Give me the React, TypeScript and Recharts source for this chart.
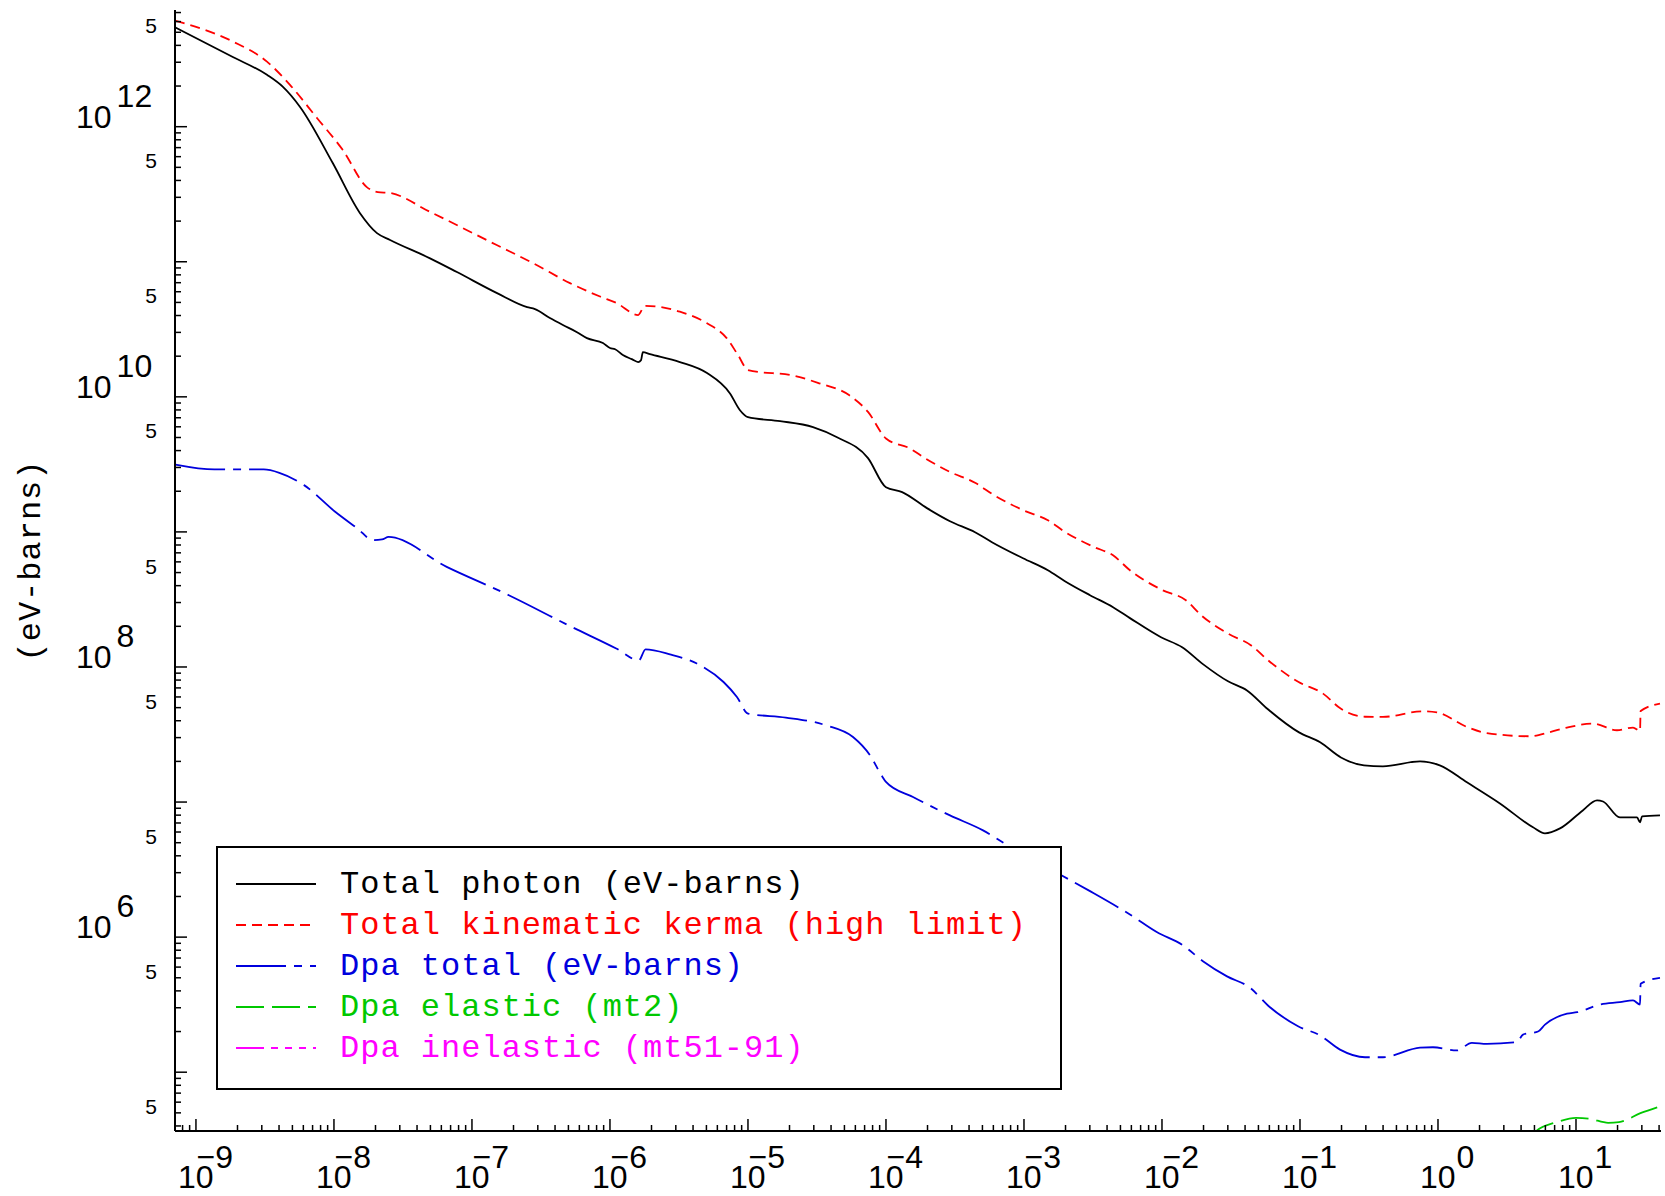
import React from 'react';
import { LineChart, Line, XAxis, YAxis, Legend } from 'recharts';

// photon heating, energy in MeV, values in eV-barns
const photonE = [7.05e-10, 1.85e-9, 3.27e-9, 4.27e-9, 5.68e-9, 9.8e-9, 1.54e-8, 2.05e-8, 2.55e-8, 4.97e-8, 7.78e-8, 1.52e-7, 2.51e-7, 2.86e-7, 3.67e-7, 4.56e-7, 5.77e-7, 6.81e-7, 8.89e-7, 1.0e-6, 1.09e-6, 1.24e-6, 1.44e-6, 1.6e-6, 1.68e-6, 1.73e-6, 1.95e-6, 3.21e-6, 5.05e-6, 7.41e-6, 8.75e-6, 1.0e-5, 1.71e-5, 2.96e-5, 4.42e-5, 7.41e-5, 1.0e-4, 1.31e-4, 1.98e-4, 2.91e-4, 4.42e-4, 5.86e-4, 9.84e-4, 1.49e-3, 1.98e-3, 3.01e-3, 4.42e-3, 5.86e-3, 9.84e-3, 1.4e-2, 1.98e-2, 3.01e-2, 4.13e-2, 5.86e-2, 9.84e-2, 0.14, 0.198, 0.291, 0.399, 0.741, 1.03, 1.62, 2.81, 4.88, 5.96, 7.66, 11.2, 14.2, 15.7, 20.8, 27.7, 29.1, 30.1, 40.6];
const photonV = [5.45e12, 3.28e12, 2.42e12, 1.97e12, 1.4e12, 5.38e11, 2.3e11, 1.63e11, 1.45e11, 1.06e11, 8.39e10, 5.86e10, 4.61e10, 4.46e10, 3.83e10, 3.4e10, 3.01e10, 2.72e10, 2.5e10, 2.3e10, 2.25e10, 2.04e10, 1.9e10, 1.81e10, 1.87e10, 2.14e10, 2.07e10, 1.81e10, 1.5e10, 1.06e10, 7.96e9, 7.08e9, 6.61e9, 5.97e9, 5.02e9, 3.52e9, 2.14e9, 1.97e9, 1.5e9, 1.2e9, 9.95e8, 8.39e8, 6.38e8, 5.2e8, 4.32e8, 3.4e8, 2.77e8, 2.3e8, 1.66e8, 1.4e8, 1.05e8, 7.83e7, 6.71e7, 4.86e7, 3.28e7, 2.77e7, 2.14e7, 1.87e7, 1.84e7, 2.0e7, 1.87e7, 1.4e7, 9.77e6, 6.5e6, 5.86e6, 6.38e6, 8.67e6, 1.03e7, 1.01e7, 7.69e6, 7.69e6, 7.08e6, 7.83e6, 7.96e6];

const kermaE = [7.05e-10, 1.85e-9, 3.27e-9, 4.8e-9, 7.53e-9, 1.16e-8, 1.73e-8, 2.08e-8, 2.55e-8, 4.97e-8, 1.51e-7, 2.77e-7, 5.13e-7, 8.47e-7, 1.12e-6, 1.6e-6, 1.79e-6, 3.21e-6, 5.02e-6, 7.01e-6, 8.47e-6, 1.0e-5, 2.25e-5, 3.21e-5, 5.4e-5, 7.41e-5, 1.0e-4, 1.49e-4, 1.93e-4, 2.91e-4, 4.42e-4, 6.07e-4, 9.84e-4, 1.49e-3, 1.98e-3, 3.21e-3, 4.42e-3, 5.86e-3, 1.01e-2, 1.49e-2, 1.92e-2, 3.0e-2, 4.4e-2, 6.07e-2, 9.77e-2, 0.147, 0.197, 0.296, 0.399, 0.778, 0.984, 1.62, 2.26, 4.65, 6.49, 8.61, 13.3, 19.8, 25.9, 29.1, 29.4, 40.6];
const kermaV = [6.1e12, 4.27e12, 3.03e12, 2.04e12, 1.16e12, 6.71e11, 3.57e11, 3.28e11, 3.23e11, 2.34e11, 1.33e11, 9.77e10, 6.95e10, 5.53e10, 4.94e10, 4.03e10, 4.72e10, 4.27e10, 3.52e10, 2.72e10, 2.04e10, 1.58e10, 1.42e10, 1.27e10, 1.03e10, 7.74e9, 4.92e9, 4.15e9, 3.5e9, 2.78e9, 2.31e9, 1.87e9, 1.45e9, 1.22e9, 1.0e9, 7.74e8, 6.71e8, 5.2e8, 3.7e8, 3.12e8, 2.42e8, 1.77e8, 1.45e8, 1.09e8, 7.74e7, 6.35e7, 4.92e7, 4.28e7, 4.27e7, 4.7e7, 4.61e7, 3.6e7, 3.24e7, 3.07e7, 3.3e7, 3.56e7, 3.81e7, 3.4e7, 3.56e7, 3.36e7, 4.72e7, 5.36e7];

const dpaE = [7.1e-10, 1.36e-9, 3.1e-9, 4.02e-9, 6.07e-9, 1.02e-8, 1.48e-8, 1.92e-8, 2.23e-8, 2.49e-8, 6.56e-8, 1.85e-7, 5.28e-7, 1.11e-6, 1.62e-6, 1.81e-6, 2.72e-6, 4.26e-6, 6.65e-6, 8.32e-6, 1.0e-5, 1.88e-5, 3.67e-5, 5.77e-5, 7.66e-5, 9.27e-5, 1.0e-4, 1.57e-4, 2.91e-4, 5.05e-4, 7.66e-4, 1.2e-3, 1.88e-3, 3.01e-3, 5.86e-3, 9.16e-3, 1.42e-2, 1.98e-2, 2.96e-2, 4.35e-2, 5.86e-2, 9.68e-2, 0.14, 0.195, 0.296, 0.399, 0.741, 0.92, 1.37, 1.76, 2.26, 3.73, 4.13, 5.31, 5.96, 8.61, 10.2, 14.9, 20.8, 25.9, 29.1, 29.4, 40.6];
const dpaV = [3.15e9, 2.9e9, 2.9e9, 2.74e9, 2.22e9, 1.41e9, 1.06e9, 8.69e8, 8.79e8, 9.18e8, 5.51e8, 3.4e8, 1.98e8, 1.37e8, 1.12e8, 1.35e8, 1.24e8, 1.06e8, 7.74e7, 6.0e7, 4.52e7, 4.22e7, 3.7e7, 3.03e7, 2.22e7, 1.58e7, 1.41e7, 1.09e7, 7.96e6, 6.17e6, 4.77e6, 3.7e6, 2.86e6, 2.19e6, 1.47e6, 1.09e6, 8.69e5, 6.64e5, 5.12e5, 4.22e5, 3.12e5, 2.19e5, 1.87e5, 1.47e5, 1.29e5, 1.29e5, 1.52e5, 1.53e5, 1.45e5, 1.65e5, 1.62e5, 1.67e5, 1.9e5, 2.0e5, 2.25e5, 2.71e5, 2.78e5, 3.17e5, 3.3e5, 3.4e5, 3.17e5, 4.52e5, 5.0e5];

const elasticE = [4.8, 5.13, 7.28, 10.0, 12.6, 17.1, 20.5, 29.3, 40.6];
const elasticV = [3.2e4, 3.66e4, 4.27e4, 4.59e4, 4.52e4, 4.22e4, 4.27e4, 4.97e4, 5.57e4];

// axis ranges and ticks
const xDomain = [7.05e-10, 41.3];
const yDomain = [3.67e4, 7.31e12];
const xDecades = [-10, -9, -8, -7, -6, -5, -4, -3, -2, -1, 0, 1];
const yDecades = [4, 5, 6, 7, 8, 9, 10, 11, 12];
const mantissas = [1, 2, 3, 4, 5, 6, 7, 8, 9];
const yBigLabels = [6, 8, 10, 12];

const buildTicks = (decades: number[], d: number[]) =>
    decades
        .flatMap((n) => mantissas.map((m) => m * Math.pow(10, n)))
        .filter((v) => v >= d[0] && v <= d[1]);

const xTicks = buildTicks(xDecades, xDomain);
const yTicks = buildTicks(yDecades, yDomain);

const decomp = (v: number) => {
    const n = Math.floor(Math.log10(v) + 1e-9);
    const m = Math.round(v / Math.pow(10, n));
    return { n, m };
};

const zip = (e: number[], v: number[]) => e.map((x, i) => ({ e: x, v: v[i] }));

const series = [
    { name: 'Total photon (eV-barns)', color: '#000000', dash: undefined, data: zip(photonE, photonV) },
    { name: 'Total kinematic kerma (high limit)', color: '#ff0000', dash: '10 6', data: zip(kermaE, kermaV) },
    { name: 'Dpa total (eV-barns)', color: '#0000dd', dash: '50 8 8 8', data: zip(dpaE, dpaV) },
    { name: 'Dpa elastic (mt2)', color: '#00c800', dash: '28 8', data: zip(elasticE, elasticV) },
    { name: 'Dpa inelastic (mt51-91)', color: '#ff00ff', dash: '28 7 7 7 7 7 7 7', data: [] as { e: number; v: number }[] }
];

const numFont = '"Liberation Sans", Arial, sans-serif';
const monoFont = '"Liberation Mono", "DejaVu Sans Mono", monospace';

// IDL style labels: "10" with a raised exponent, minus sign sitting over the 0
const XTick = (props: any) => {
    const { x, y, payload, side } = props;
    const { n, m } = decomp(payload.value);
    const major = m === 1;
    const len = major ? 12 : 6;
    const dir = side === 'top' ? 1 : -1;
    return (
        <g>
            <line x1={x} x2={x} y1={y} y2={y + dir * len} stroke="#000" strokeWidth={1.5} />
            {side === 'bottom' && major && (
                <text x={x - 18} y={y + 57} fontFamily={numFont} fontSize={32} fill="#000">
                    10
                    <tspan dx={n < 0 ? -17 : 1} dy={-20}>
                        {n < 0 ? `\u2212${-n}` : `${n}`}
                    </tspan>
                </text>
            )}
        </g>
    );
};

const YTick = (props: any) => {
    const { x, y, payload, side } = props;
    const { n, m } = decomp(payload.value);
    const major = m === 1;
    const len = major ? 12 : 6;
    const dir = side === 'left' ? 1 : -1;
    return (
        <g>
            <line x1={x} x2={x + dir * len} y1={y} y2={y} stroke="#000" strokeWidth={1.5} />
            {side === 'left' && major && yBigLabels.includes(n) && (
                <text x={x - 99} y={y + 1} fontFamily={numFont} fontSize={32} fill="#000">
                    10
                    <tspan dx={5} dy={-21}>{n}</tspan>
                </text>
            )}
            {side === 'left' && m === 5 && (
                <text x={x - 18} y={y + 1} textAnchor="end" fontFamily={numFont} fontSize={21} fill="#000">
                    5
                </text>
            )}
        </g>
    );
};

const YTitle = (props: any) => {
    const vb = props.viewBox;
    const cx = vb.x + 40;
    const cy = vb.y + vb.height / 2 - 10;
    return (
        <text
            x={cx}
            y={cy}
            transform={`rotate(-90, ${cx}, ${cy})`}
            textAnchor="middle"
            fontFamily={monoFont}
            fontSize={32}
            letterSpacing={1}
            fill="#000"
        >
            (eV-barns)
        </text>
    );
};

const LegendBox = () => (
    <div style={{ width: 846, height: 244, border: '2px solid #000', boxSizing: 'border-box', background: '#fff' }}>
        <svg width={842} height={240}>
            {series.map((s, i) => {
                const yy = 36 + i * 41;
                return (
                    <g key={s.name}>
                        <line x1={18} x2={98} y1={yy} y2={yy} stroke={s.color} strokeWidth={1.8} strokeDasharray={s.dash} />
                        <text x={122} y={yy + 9} fontFamily={monoFont} fontSize={32} letterSpacing={1} fill={s.color}>
                            {s.name}
                        </text>
                    </g>
                );
            })}
        </svg>
    </div>
);

const App = () => {
    return (
        <div style={{ position: 'absolute', left: 0, top: 0, width: 1665, height: 1196, background: '#fff' }}>
            <LineChart width={1665} height={1196} margin={{ top: 10, right: 4, bottom: 0, left: 0 }}>
                <XAxis
                    xAxisId="b"
                    dataKey="e"
                    type="number"
                    scale="log"
                    domain={xDomain}
                    allowDataOverflow
                    ticks={xTicks}
                    interval={0}
                    height={65}
                    tickSize={0}
                    tickMargin={0}
                    tickLine={false}
                    axisLine={{ stroke: '#000', strokeWidth: 2 }}
                    tick={(p: any) => <XTick {...p} side="bottom" />}
                />
                <XAxis
                    xAxisId="t"
                    orientation="top"
                    dataKey="e"
                    type="number"
                    scale="log"
                    domain={xDomain}
                    allowDataOverflow
                    ticks={xTicks}
                    interval={0}
                    height={0}
                    tickSize={0}
                    tickMargin={0}
                    tickLine={false}
                    axisLine={{ stroke: '#000', strokeWidth: 2 }}
                    tick={(p: any) => <XTick {...p} side="top" />}
                />
                <YAxis
                    yAxisId="l"
                    type="number"
                    scale="log"
                    domain={yDomain}
                    allowDataOverflow
                    ticks={yTicks}
                    interval={0}
                    width={175}
                    tickSize={0}
                    tickMargin={0}
                    tickLine={false}
                    axisLine={{ stroke: '#000', strokeWidth: 2 }}
                    tick={(p: any) => <YTick {...p} side="left" />}
                    label={(p: any) => <YTitle {...p} />}
                />
                <YAxis
                    yAxisId="r"
                    orientation="right"
                    type="number"
                    scale="log"
                    domain={yDomain}
                    allowDataOverflow
                    ticks={yTicks}
                    interval={0}
                    width={0}
                    tickSize={0}
                    tickMargin={0}
                    tickLine={false}
                    axisLine={{ stroke: '#000', strokeWidth: 2 }}
                    tick={(p: any) => <YTick {...p} side="right" />}
                />
                {series
                    .filter((s) => s.data.length > 0)
                    .map((s) => (
                        <Line
                            key={s.name}
                            xAxisId="b"
                            yAxisId="l"
                            data={s.data}
                            dataKey="v"
                            name={s.name}
                            type="monotone"
                            stroke={s.color}
                            strokeWidth={1.8}
                            strokeDasharray={s.dash}
                            dot={false}
                            activeDot={false}
                            isAnimationActive={false}
                        />
                    ))}
                <Legend
                    layout="horizontal"
                    verticalAlign="middle"
                    content={() => <LegendBox />}
                    wrapperStyle={{ left: 216, top: 846, width: 846, height: 244 }}
                />
            </LineChart>
        </div>
    );
};

export default App;
